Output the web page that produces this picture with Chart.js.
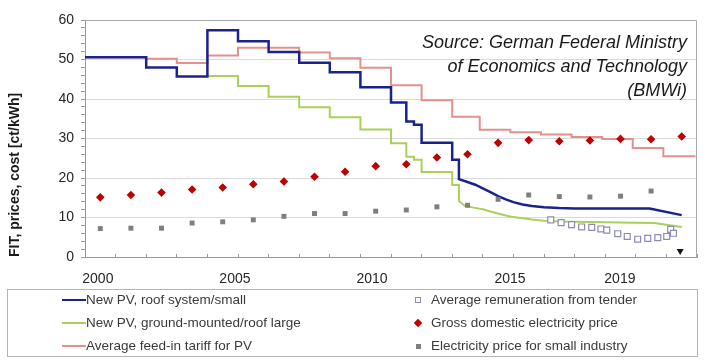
<!DOCTYPE html>
<html><head><meta charset="utf-8">
<script src="https://cdn.jsdelivr.net/npm/chart.js@4.4.1/dist/chart.umd.min.js"></script>
<style>
html,body{margin:0;padding:0;background:#fff;}
#wrap{position:relative;width:705px;height:364px;overflow:hidden;}
#c{position:absolute;left:0;top:0;}
#legend{position:absolute;left:7px;top:289px;width:691px;height:68px;border:1px solid #b4b4b4;box-sizing:border-box;font-family:"Liberation Sans",Arial,sans-serif;font-size:13.5px;color:#3a3a3a;}
.item{position:absolute;height:18px;line-height:18px;white-space:nowrap;}
.mk{position:absolute;box-sizing:border-box;}
</style></head><body>
<div id="wrap"><canvas id="c" width="705" height="364"></canvas><div id="legend"></div></div>
<script>
// ---- data ----
const roofYears = [2000,2002,2002,2003,2003,2004,2004,2005,2005,2006,2006,2007,2007,2008,2008,2009,2009,2010,2010,2010.5,2010.5,2010.75,2010.75,2011,2011,2012,2012,2012.22,2012.22,2012.5,2012.75,2013,2013.25,2013.5,2013.75,2014,2014.3,2014.6,2015,2015.5,2016,2018.45,2019.5];
const roofValues = [50.6,50.6,48.0,48.0,45.7,45.7,57.4,57.4,54.6,54.6,51.9,51.9,49.2,49.2,46.8,46.8,43.0,43.0,39.1,39.1,34.3,34.3,33.5,33.5,28.9,28.9,24.6,24.6,19.7,19.0,18.3,17.4,16.4,15.4,14.6,13.9,13.3,12.9,12.6,12.4,12.3,12.3,10.6];

const groundYears = [2004,2005,2005,2006,2006,2007,2007,2008,2008,2009,2009,2010,2010,2010.5,2010.5,2010.75,2010.75,2011,2011,2012,2012,2012.22,2012.22,2012.4,2012.7,2013,2013.25,2013.5,2013.75,2014,2014.3,2014.6,2015,2015.5,2016,2017,2018,2018.6,2019.5];
const groundValues = [45.8,45.8,43.3,43.3,40.6,40.6,37.9,37.9,35.4,35.4,32.3,32.3,28.8,28.8,25.4,25.4,24.6,24.6,21.5,21.5,18.2,18.2,14.2,13.0,12.5,12.1,11.5,11.0,10.5,10.1,9.8,9.5,9.2,9.0,8.9,8.8,8.7,8.6,7.6];

const avgFitYears = [2000,2002,2002,2003,2003,2004,2004,2005,2005,2007,2007,2008,2008,2009,2009,2010,2010,2011,2011,2012,2012,2012.9,2012.9,2013.9,2013.9,2014.9,2014.9,2015.9,2015.9,2016.9,2016.9,2017.9,2017.9,2018.9,2018.9,2019.95];
const avgFitValues = [50.6,50.6,50.2,50.2,49.1,49.1,51.0,51.0,53.0,53.0,51.8,51.8,50.3,50.3,47.9,47.9,43.5,43.5,39.7,39.7,35.5,35.5,32.2,32.2,31.6,31.6,31.0,31.0,30.4,30.4,29.9,29.9,27.6,27.6,25.5,25.5];

const tenderDates = [2015.22,2015.56,2015.9,2016.23,2016.56,2016.86,2017.05,2017.41,2017.72,2018.06,2018.39,2018.72,2019.01,2019.14,2019.23];
const tenderValues = [9.4,8.7,8.2,7.6,7.5,7.1,6.8,5.9,5.2,4.5,4.7,4.9,5.2,7.0,6.0];

const priceYears = [2000,2001,2002,2003,2004,2005,2006,2007,2008,2009,2010,2011,2012,2013,2014,2015,2016,2017,2018,2019];
const grossPrice = [15.1,15.7,16.3,17.1,17.6,18.4,19.1,20.3,21.6,23.0,23.5,25.2,26.0,28.9,29.6,29.3,29.5,29.9,29.8,30.5];
const industryPrice = [7.2,7.3,7.3,8.6,8.9,9.4,10.3,11.0,11.0,11.6,11.9,12.7,13.1,14.6,15.7,15.3,15.2,15.4,16.7,null];

const markDates = [2019.45];
const markValues = [1.5];

const xTickLabels = ['2000','2005','2010','2015','2019'];
const xTickLabelAt = [2000.42,2004.9,2009.38,2013.89,2017.48];

const seriesNames = ['New PV, roof system/small','New PV, ground-mounted/roof large','Average feed-in tariff for PV','Average remuneration from tender','Gross domestic electricity price','Electricity price for small industry'];
const sourceLines = ['Source: German Federal Ministry','of Economics and Technology','(BMWi)'];
const yTitle = 'FIT, prices, cost [ct/kWh]';

// ---- helpers ----
const pts = (xs, ys, dx) => xs.map((x, i) => ({x: x + (dx || 0), y: ys[i]}));

const frame = {
  id: 'frame',
  beforeDatasetsDraw(chart) {
    const {ctx, chartArea: a} = chart;
    ctx.save();
    ctx.strokeStyle = '#a8a8a8';
    ctx.lineWidth = 1;
    ctx.beginPath();
    ctx.moveTo(a.left, Math.round(a.top) + 0.5);
    ctx.lineTo(Math.round(a.right) - 0.5, Math.round(a.top) + 0.5);
    ctx.lineTo(Math.round(a.right) - 0.5, a.bottom);
    ctx.stroke();
    ctx.restore();
  }
};
const sourceNote = {
  id: 'sourceNote',
  afterDatasetsDraw(chart) {
    const {ctx, chartArea: a} = chart;
    ctx.save();
    ctx.font = 'italic 18px "Liberation Sans", Arial, sans-serif';
    ctx.fillStyle = '#1a1a1a';
    ctx.textAlign = 'right';
    ctx.textBaseline = 'middle';
    sourceLines.forEach((t, i) => ctx.fillText(t, a.right - 10, a.top + 23 + i * 24));
    ctx.restore();
  }
};

const chart = new Chart(document.getElementById('c'), {
  type: 'line',
  data: {
    datasets: [
      {label: seriesNames[0], data: pts(roofYears, roofValues), borderColor: '#1a228c', backgroundColor: '#1a228c', borderWidth: 2.5, pointRadius: 0, order: 3},
      {label: seriesNames[1], data: pts(groundYears, groundValues), borderColor: '#a9d15a', backgroundColor: '#a9d15a', borderWidth: 2, pointRadius: 0, order: 4},
      {label: seriesNames[2], data: pts(avgFitYears, avgFitValues), borderColor: '#e3908f', backgroundColor: '#e3908f', borderWidth: 2, pointRadius: 0, order: 5},
      {label: seriesNames[3], data: pts(tenderDates, tenderValues), showLine: false, pointStyle: 'rect', pointRadius: 4.2, borderWidth: 1.2, borderColor: '#8c8ab8', backgroundColor: '#ffffff', order: 2},
      {label: seriesNames[4], data: pts(priceYears, grossPrice, 0.5), showLine: false, pointStyle: 'rectRot', pointRadius: 4.3, borderWidth: 0, borderColor: '#c00000', backgroundColor: '#c00000', order: 1},
      {label: seriesNames[5], data: pts(priceYears, industryPrice, 0.5), showLine: false, pointStyle: 'rect', pointRadius: 3.5, borderWidth: 0, borderColor: '#7f7f7f', backgroundColor: '#7f7f7f', order: 1},
      {label: '', legendHidden: true, data: pts(markDates, markValues), showLine: false, pointStyle: 'triangle', rotation: 180, pointRadius: 4, borderWidth: 0, borderColor: '#111', backgroundColor: '#111', order: 0}
    ]
  },
  options: {
    responsive: false,
    animation: false,
    layout: {padding: {left: 0, right: 8, top: 20, bottom: 77}},
    plugins: {legend: {display: false}, tooltip: {enabled: false}},
    scales: {
      x: {
        type: 'linear', min: 2000, max: 2020,
        afterBuildTicks(axis) {
          const t = [];
          for (let y = 2000; y <= 2020; y++) t.push({value: y});
          xTickLabelAt.forEach(v => t.push({value: v}));
          t.sort((a, b) => a.value - b.value);
          axis.ticks = t;
        },
        afterFit(axis) { axis.height = 30; axis.paddingLeft = 0; axis.paddingRight = 0; },
        ticks: {
          autoSkip: false, maxRotation: 0, padding: 17,
          color: '#262626', font: {family: '"Liberation Sans", Arial, sans-serif', size: 14},
          callback(v) { const i = xTickLabelAt.indexOf(v); return i >= 0 ? xTickLabels[i] : ''; }
        },
        grid: {
          drawOnChartArea: false, drawTicks: true, tickLength: -3,
          tickColor: (c) => (c.tick && xTickLabelAt.includes(c.tick.value)) ? 'rgba(0,0,0,0)' : '#999999'
        },
        border: {color: '#999999', width: 1}
      },
      y: {
        type: 'linear', min: 0, max: 60,
        afterBuildTicks(axis) {
          const t = [];
          for (let v = 0; v <= 60; v += 2) t.push({value: v});
          axis.ticks = t;
        },
        afterFit(axis) { axis.width = 85; },
        ticks: {
          autoSkip: false, padding: 7,
          color: '#262626', font: {family: '"Liberation Sans", Arial, sans-serif', size: 14},
          callback(v) { return v % 10 === 0 ? String(v) : ''; }
        },
        grid: {
          tickLength: 4, tickColor: '#999999',
          color: (c) => (c.tick && c.tick.value % 10 === 0 && c.tick.value > 0 && c.tick.value < 60) ? '#dadada' : 'rgba(0,0,0,0)'
        },
        border: {color: '#999999', width: 1},
        title: {
          display: true, text: yTitle, align: 'start', color: '#1a1a1a',
          font: {family: '"Liberation Sans", Arial, sans-serif', size: 14, weight: 'bold'},
          padding: {top: 7, bottom: 0}
        }
      }
    }
  },
  plugins: [frame, sourceNote]
});

// ---- HTML legend built from the chart's datasets ----
(function buildLegend() {
  const box = document.getElementById('legend');
  const ds = chart.data.datasets.filter(d => !d.legendHidden);
  ds.forEach((d, i) => {
    const col = i < 3 ? 0 : 1;
    const row = i % 3;
    const cy = 10 + row * 23;
    const mk = document.createElement('div');
    mk.className = 'mk';
    if (d.showLine === false) {
      if (d.pointStyle === 'rectRot') {
        Object.assign(mk.style, {left: '407px', top: (cy - 3) + 'px', width: '6px', height: '6px', background: d.backgroundColor, transform: 'rotate(45deg)'});
      } else if (d.backgroundColor === '#ffffff') {
        Object.assign(mk.style, {left: '407px', top: (cy - 3) + 'px', width: '6px', height: '6px', border: '1px solid ' + d.borderColor, background: '#fff'});
      } else {
        Object.assign(mk.style, {left: '408px', top: (cy - 2) + 'px', width: '5px', height: '5px', background: d.backgroundColor});
      }
    } else {
      Object.assign(mk.style, {left: '54px', top: (cy - 1) + 'px', width: '24px', height: '2px', background: d.borderColor});
    }
    box.appendChild(mk);
    const it = document.createElement('div');
    it.className = 'item';
    it.textContent = d.label;
    it.style.left = (col === 0 ? 78 : 423) + 'px';
    it.style.top = (cy - 9) + 'px';
    box.appendChild(it);
  });
})();
</script>
</body></html>
